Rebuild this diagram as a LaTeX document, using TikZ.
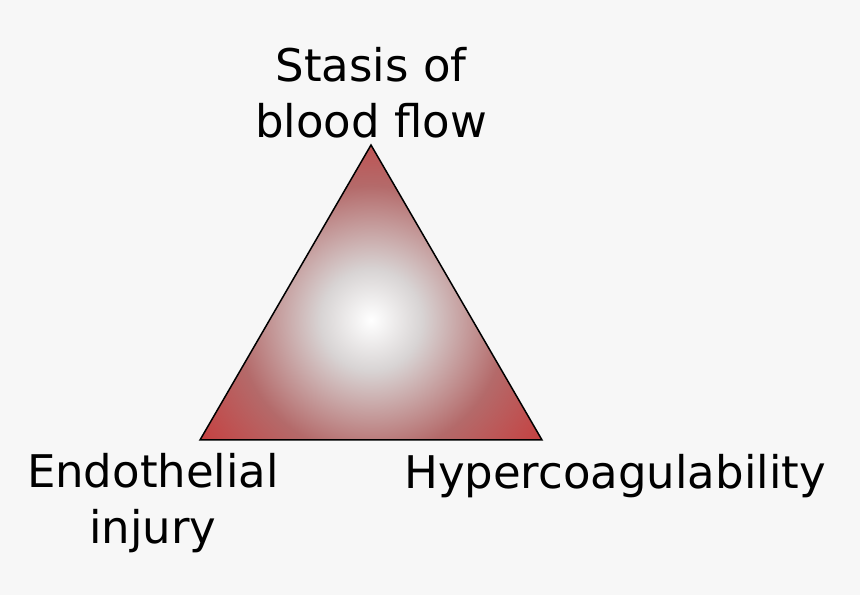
\documentclass[tikz,border=0pt]{standalone}
\usepackage{fontspec}
\setmainfont{DejaVu Sans}
\definecolor{c1}{HTML}{D8D4D4}
\definecolor{c2}{HTML}{B46A6A}
\definecolor{c3}{HTML}{D02828}
\pgfdeclareradialshading{thr}{\pgfpoint{0bp}{0bp}}{color(0bp)=(white); color(6bp)=(c1); color(16bp)=(c2); color(30bp)=(c3); color(50bp)=(c3)}
\begin{document}
\begin{tikzpicture}[x=1pt,y=1pt,lbl/.style={font=\fontsize{45}{56}\selectfont,align=center,inner sep=0}]
\useasboundingbox (0,0) rectangle (860,595);
\fill[black!3] (0,0) rectangle (860,595);
\coordinate (T) at (371,450);
\coordinate (L) at (200,155);
\coordinate (R) at (542,155);
\coordinate (C) at (371,275);
\begin{scope}
\clip (T) -- (L) -- (R) -- cycle;
\shade[shading=thr] (C) circle[radius=210];
\end{scope}
\draw[line width=1.5pt,line join=miter] (T) -- (L) -- (R) -- cycle;
\node[lbl] (ts) at (371,502) {Stasis of\\blood flow};
\node[lbl] (tl) at (153,92) {Endothelial\\injury};
\node[lbl,anchor=west] (tr) at (404,119) {Hypercoagulability};
\end{tikzpicture}
\end{document}
